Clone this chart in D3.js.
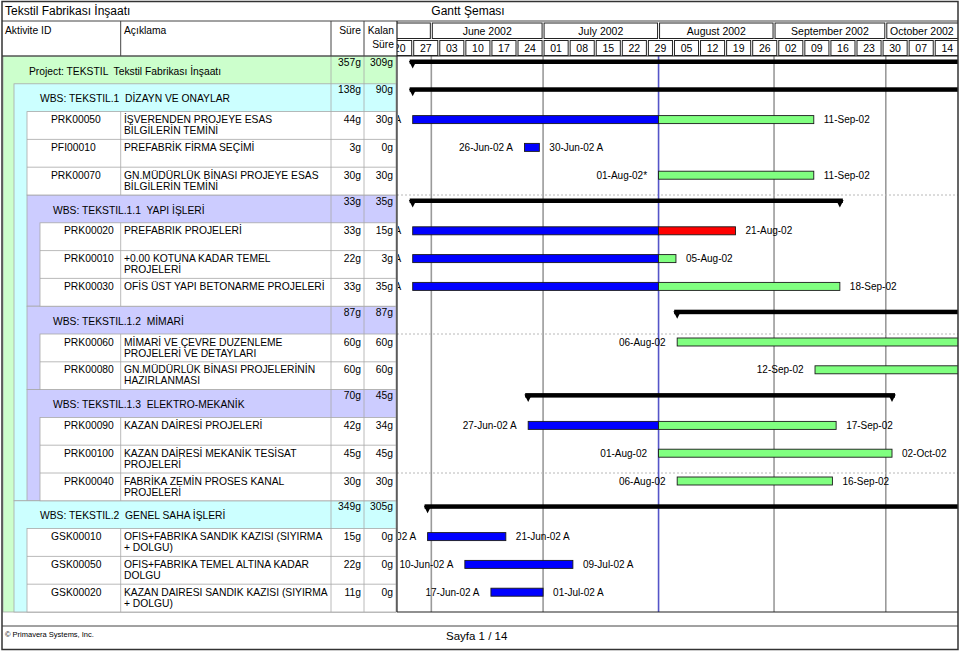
<!DOCTYPE html>
<html><head><meta charset="utf-8">
<script src="https://cdn.jsdelivr.net/npm/d3@7"></script>
<style>
body{margin:0;background:#fff}
svg{display:block}
text{font-family:"Liberation Sans",Arial,sans-serif;fill:#000}
</style>
</head><body>
<svg id="c" width="960" height="651"></svg>
<script>
// ---------------- DATA ----------------
const titleText = "Tekstil Fabrikası İnşaatı";
const chartTitle = "Gantt Şeması";
const columnHeaders = ["Aktivite ID", "Açıklama", "Süre", "Kalan|Süre"];
const monthStarts = ["2002-05-01","2002-06-01","2002-07-01","2002-08-01","2002-09-01","2002-10-01","2002-11-01"];
const monthLabels = ["May 2002","June 2002","July 2002","August 2002","September 2002","October 2002"];
const weekStarts = ["2002-05-20","2002-05-27","2002-06-03","2002-06-10","2002-06-17","2002-06-24","2002-07-01","2002-07-08","2002-07-15","2002-07-22","2002-07-29","2002-08-05","2002-08-12","2002-08-19","2002-08-26","2002-09-02","2002-09-09","2002-09-16","2002-09-23","2002-09-30","2002-10-07","2002-10-14","2002-10-21"];
const weekLabels = ["20","27","03","10","17","24","01","08","15","22","29","05","12","19","26","02","09","16","23","30","07","14"];
const dataDate = "2002-08-01";

const rowTypes = ["project","wbs","task","task","task","wbs","task","task","task","wbs","task","task","wbs","task","task","task","wbs","task","task","task"];
const rowDepth = [0,1,2,2,2,2,3,3,3,2,3,3,2,3,3,3,1,2,2,2];
const activityIds = ["","","PRK00050","PFI00010","PRK00070","","PRK00020","PRK00010","PRK00030","","PRK00060","PRK00080","","PRK00090","PRK00100","PRK00040","","GSK00010","GSK00050","GSK00020"];
const descriptions = [
  "Project: TEKSTIL  Tekstil Fabrikası İnşaatı",
  "WBS: TEKSTIL.1  DİZAYN VE ONAYLAR",
  "İŞVERENDEN PROJEYE ESAS|BİLGİLERİN TEMİNİ",
  "PREFABRİK FİRMA SEÇİMİ",
  "GN.MÜDÜRLÜK BİNASI PROJEYE ESAS|BİLGİLERİN TEMİNİ",
  "WBS: TEKSTIL.1.1  YAPI İŞLERİ",
  "PREFABRIK PROJELERİ",
  "+0.00 KOTUNA KADAR TEMEL|PROJELERİ",
  "OFİS ÜST YAPI BETONARME PROJELERİ",
  "WBS: TEKSTIL.1.2  MİMARİ",
  "MİMARİ VE ÇEVRE DUZENLEME|PROJELERİ VE DETAYLARI",
  "GN.MÜDÜRLÜK BİNASI PROJELERİNİN|HAZIRLANMASI",
  "WBS: TEKSTIL.1.3  ELEKTRO-MEKANİK",
  "KAZAN DAİRESİ PROJELERİ",
  "KAZAN DAİRESİ MEKANİK TESİSAT|PROJELERİ",
  "FABRİKA ZEMİN PROSES KANAL|PROJELERİ",
  "WBS: TEKSTIL.2  GENEL SAHA İŞLERİ",
  "OFIS+FABRIKA SANDIK KAZISI (SIYIRMA|+ DOLGU)",
  "OFIS+FABRIKA TEMEL ALTINA KADAR|DOLGU",
  "KAZAN DAIRESI SANDIK KAZISI (SIYIRMA|+ DOLGU)"
];
const originalDuration = [357,138,44,3,30,33,33,22,33,87,60,60,70,42,45,30,349,15,22,11];
const remainingDuration = [309,90,30,0,30,35,15,3,35,87,60,60,45,34,45,30,305,0,0,0];
const startDates = ["2002-05-27","2002-05-27","2002-05-27","2002-06-26","2002-08-01","2002-05-27","2002-05-27","2002-05-27","2002-05-27","2002-08-06","2002-08-06","2002-09-12","2002-06-27","2002-06-27","2002-08-01","2002-08-06","2002-05-31","2002-05-31","2002-06-10","2002-06-17"];
const finishDates = ["2003-10-08","2002-12-04","2002-09-11","2002-06-30","2002-09-11","2002-09-18","2002-08-21","2002-08-05","2002-09-18","2002-12-04","2002-10-28","2002-12-04","2002-10-02","2002-09-17","2002-10-02","2002-09-16","2003-10-08","2002-06-21","2002-07-09","2002-07-01"];
const actualStart = [1,1,1,1,0,1,1,1,1,0,0,0,1,1,0,0,1,1,1,1];
const actualFinish = [0,0,0,1,0,0,0,0,0,0,0,0,0,0,0,0,0,1,1,1];
const critical = [0,0,0,0,0,0,1,0,0,0,0,0,0,0,0,0,0,0,0,0];
const startLabels = ["","","27-May-02 A","26-Jun-02 A","01-Aug-02*","","27-May-02 A","27-May-02 A","27-May-02 A","","06-Aug-02","12-Sep-02","","27-Jun-02 A","01-Aug-02","06-Aug-02","","31-May-02 A","10-Jun-02 A","17-Jun-02 A"];
const finishLabels = ["","","11-Sep-02","30-Jun-02 A","11-Sep-02","","21-Aug-02","05-Aug-02","18-Sep-02","","28-Oct-02","04-Dec-02","","17-Sep-02","02-Oct-02","16-Sep-02","","21-Jun-02 A","09-Jul-02 A","01-Jul-02 A"];
const footerLeft = "© Primavera Systems, Inc.";
const footerPage = "Sayfa 1 / 14";

// ---------------- LAYOUT ----------------
const parse = d3.timeParse("%Y-%m-%d");
const svg = d3.select("#c");
const L = 2, R = 958, T = 1.5, B = 649.5;
const chartL = 397, chartR = 958;
const bodyTop = 56, bodyBottom = 612;
const colID = 120.7, colSure = 331, colKalan = 364, colEnd = 396;
const bandX = [3, 14, 27, 40];
const FS = 10.3;
const colors = {project:"#ccffcc", wbs1:"#ccffff", wbs2:"#ccccff", line:"#a8a8a8"};

const x = d3.scaleTime()
  .domain([new Date(2002,4,23), new Date(2002,9,21)])
  .range([397.8, 960.3]);
const y = d3.scaleBand().domain(d3.range(rowTypes.length)).range([bodyTop, bodyBottom]).padding(0);
const endX = (i) => {
  const d = parse(finishDates[i]);
  return actualFinish[i] ? x(d) : x(d3.timeHour.offset(d, 16));
};

const defs = svg.append("defs");
defs.append("clipPath").attr("id","chartClip").append("rect")
  .attr("x", chartL).attr("y", 20).attr("width", chartR - chartL).attr("height", bodyBottom - 20);
defs.append("clipPath").attr("id","labelClip").append("rect")
  .attr("x", chartL + 1).attr("y", bodyTop).attr("width", chartR - chartL - 1).attr("height", bodyBottom - bodyTop);

svg.append("rect").attr("width",960).attr("height",651).attr("fill","#fff");

// ---------------- TITLE ----------------
svg.append("text").attr("x", 5).attr("y", 14.5).attr("font-size", 12).text(titleText);
svg.append("text").attr("x", 468).attr("y", 14.5).attr("font-size", 12).attr("text-anchor","middle").text(chartTitle);
svg.append("line").attr("x1",L).attr("x2",R).attr("y1",21).attr("y2",21).attr("stroke","#444").attr("stroke-width",1);

// ---------------- COLUMN HEADERS ----------------
const hdr = svg.append("g");
hdr.append("text").attr("x",5).attr("y",34).attr("font-size",FS).text(columnHeaders[0]);
hdr.append("text").attr("x",124).attr("y",34).attr("font-size",FS).text(columnHeaders[1]);
hdr.append("text").attr("x",361).attr("y",34).attr("font-size",FS).attr("text-anchor","end").text(columnHeaders[2]);
columnHeaders[3].split("|").forEach((t,k)=>{
  hdr.append("text").attr("x",394).attr("y",34 + k*14).attr("font-size",FS).attr("text-anchor","end").text(t);
});
[colID, colSure, colKalan].forEach(cx=>{
  svg.append("line").attr("x1",cx).attr("x2",cx).attr("y1",21).attr("y2",bodyTop).attr("stroke","#444").attr("stroke-width",1);
});

// ---------------- LEFT TABLE ----------------
const tbl = svg.append("g");
tbl.append("rect").attr("x",bandX[0]).attr("y",bodyTop).attr("width",colEnd-bandX[0]).attr("height",bodyBottom-bodyTop)
  .attr("fill",colors.project).attr("stroke",colors.line).attr("stroke-width",0.8);

function sectionEnd(i){
  for (let j=i+1;j<rowTypes.length;j++){
    if (rowTypes[j] !== "task" && rowDepth[j] <= rowDepth[i]) return j;
  }
  return rowTypes.length;
}
rowTypes.forEach((t,i)=>{
  if (t === "wbs"){
    const e = sectionEnd(i);
    tbl.append("rect").attr("x",bandX[rowDepth[i]]).attr("y",y(i))
      .attr("width",colEnd-bandX[rowDepth[i]]).attr("height",(e<rowTypes.length? y(e): bodyBottom) - y(i))
      .attr("fill", rowDepth[i]===1 ? colors.wbs1 : colors.wbs2)
      .attr("stroke",colors.line).attr("stroke-width",0.8);
  }
});
let groups = [];
rowTypes.forEach((t,i)=>{
  if (t==="task"){
    const g = groups[groups.length-1];
    if (g && g.end === i && g.depth === rowDepth[i]) g.end = i+1;
    else groups.push({start:i,end:i+1,depth:rowDepth[i]});
  }
});
groups.forEach(g=>{
  const gx = bandX[g.depth];
  const y0 = y(g.start), y1 = g.end < rowTypes.length ? y(g.end) : bodyBottom;
  tbl.append("rect").attr("x",gx).attr("y",y0).attr("width",colEnd-gx).attr("height",y1-y0)
    .attr("fill","#fff").attr("stroke",colors.line).attr("stroke-width",0.8);
  for (let r=g.start+1;r<g.end;r++){
    tbl.append("line").attr("x1",gx).attr("x2",colEnd).attr("y1",y(r)).attr("y2",y(r)).attr("stroke",colors.line).attr("stroke-width",0.8);
  }
  tbl.append("line").attr("x1",colID).attr("x2",colID).attr("y1",y0).attr("y2",y1).attr("stroke",colors.line).attr("stroke-width",0.8);
});
[colSure, colKalan].forEach(cx=>{
  tbl.append("line").attr("x1",cx).attr("x2",cx).attr("y1",bodyTop).attr("y2",bodyBottom).attr("stroke",colors.line).attr("stroke-width",0.8);
});

rowTypes.forEach((t,i)=>{
  const top = y(i);
  if (t === "task"){
    tbl.append("text").attr("x",bandX[rowDepth[i]]+24).attr("y",top+11.5).attr("font-size",FS).text(activityIds[i]);
    descriptions[i].split("|").forEach((s,k)=>{
      tbl.append("text").attr("x",124).attr("y",top+11.5+k*11).attr("font-size",FS).text(s);
    });
    tbl.append("text").attr("x",361).attr("y",top+11.5).attr("font-size",FS).attr("text-anchor","end").text(originalDuration[i]+"g");
    tbl.append("text").attr("x",393).attr("y",top+11.5).attr("font-size",FS).attr("text-anchor","end").text(remainingDuration[i]+"g");
  } else {
    tbl.append("text").attr("x",bandX[rowDepth[i]]+26).attr("y",top+18.5).attr("font-size",FS).style("white-space","pre").text(descriptions[i]);
    tbl.append("text").attr("x",361).attr("y",top+9.5).attr("font-size",FS).attr("text-anchor","end").text(originalDuration[i]+"g");
    tbl.append("text").attr("x",393).attr("y",top+9.5).attr("font-size",FS).attr("text-anchor","end").text(remainingDuration[i]+"g");
  }
});

// ---------------- CHART HEADER ----------------
const ch = svg.append("g").attr("clip-path","url(#chartClip)");
const months = monthStarts.slice(0,-1).map((d,k)=>({s:parse(d), e:parse(monthStarts[k+1]), label:monthLabels[k]}));
ch.selectAll("rect.m").data(months).join("rect").attr("class","m")
  .attr("x", d=>x(d.s)+1).attr("y",23).attr("width", d=>x(d.e)-x(d.s)-2).attr("height",15.5)
  .attr("fill","#fff").attr("stroke","#222").attr("stroke-width",1);
ch.selectAll("text.m").data(months.filter(d=> Math.min(x(d.e),chartR) - Math.max(x(d.s),chartL) > 60)).join("text").attr("class","m")
  .attr("x", d=> (Math.max(x(d.s),chartL) + Math.min(x(d.e),chartR))/2).attr("y",34.5)
  .attr("font-size",10.5).attr("text-anchor","middle").text(d=>d.label);
const weeks = weekStarts.slice(0,-1).map((d,k)=>({s:parse(d), e:parse(weekStarts[k+1]), label:weekLabels[k]}));
ch.selectAll("rect.w").data(weeks).join("rect").attr("class","w")
  .attr("x", d=>x(d.s)+1).attr("y",40.5).attr("width", d=>x(d.e)-x(d.s)-2).attr("height",15)
  .attr("fill","#fff").attr("stroke","#222").attr("stroke-width",1);
ch.selectAll("text.w").data(weeks).join("text").attr("class","w")
  .attr("x", d=>(x(d.s)+x(d.e))/2).attr("y",51.5)
  .attr("font-size",10.5).attr("text-anchor","middle").text(d=>d.label);

// ---------------- CHART BODY ----------------
const body = svg.append("g").attr("clip-path","url(#chartClip)");
body.append("rect").attr("x",chartL).attr("y",bodyTop).attr("width",chartR-chartL).attr("height",bodyBottom-bodyTop).attr("fill","#fff");
const dd = parse(dataDate);
const gridMonths = monthStarts.map(parse).filter(d=> x(d)>chartL && x(d)<chartR && +d !== +dd);
body.selectAll("line.g").data(gridMonths).join("line").attr("class","g")
  .attr("x1",d=>x(d)).attr("x2",d=>x(d)).attr("y1",bodyTop).attr("y2",bodyBottom)
  .attr("stroke","#9a9a9a").attr("stroke-width",1.6);
body.selectAll("line.s").data(d3.range(5, rowTypes.length, 5)).join("line").attr("class","s")
  .attr("x1",chartL).attr("x2",chartR).attr("y1",d=>y(d)).attr("y2",d=>y(d))
  .attr("stroke","#b8b8b8").attr("stroke-width",1).attr("stroke-dasharray","2,2");
body.append("line").attr("x1",x(dd)).attr("x2",x(dd)).attr("y1",bodyTop).attr("y2",bodyBottom)
  .attr("stroke","#5555c8").attr("stroke-width",1.6);

rowTypes.forEach((t,i)=>{
  const top = y(i);
  const sx = x(parse(startDates[i])), fx = endX(i);
  if (t !== "task"){
    body.append("rect").attr("x",sx-3).attr("y",top+3.5).attr("width",fx-sx+6).attr("height",4.5).attr("fill","#000");
    [sx, fx].forEach(px=>{
      body.append("path").attr("d",`M${px-3.8},${top+5}L${px+3.8},${top+5}L${px},${top+12.5}Z`).attr("fill","#000");
    });
  } else {
    const segs = [];
    if (actualStart[i] && actualFinish[i]) segs.push([sx,fx,"#0000ff"]);
    else if (actualStart[i]) { segs.push([sx,x(dd),"#0000ff"]); segs.push([x(dd),fx, critical[i]?"#ff0000":"#80ff80"]); }
    else segs.push([sx,fx, critical[i]?"#ff0000":"#80ff80"]);
    segs.forEach(s=>{
      body.append("rect").attr("x",s[0]).attr("y",top+4).attr("width",s[1]-s[0]).attr("height",8)
        .attr("fill",s[2]).attr("stroke","#1a1a1a").attr("stroke-width",0.9);
    });
  }
});
// bar labels (only those that fall inside the visible time window)
const lab = svg.append("g").attr("clip-path","url(#labelClip)");
rowTypes.forEach((t,i)=>{
  if (t !== "task") return;
  const top = y(i);
  const sx = x(parse(startDates[i])), fx = endX(i);
  if (sx - 11.5 > chartL) {
    lab.append("text").attr("x",sx-11.5).attr("y",top+11.5).attr("font-size",10).attr("text-anchor","end").text(startLabels[i]);
  }
  if (fx + 10 < chartR - 20) {
    lab.append("text").attr("x",fx+10).attr("y",top+11.5).attr("font-size",10).text(finishLabels[i]);
  }
});

svg.append("line").attr("x1",chartL).attr("x2",chartL).attr("y1",21).attr("y2",bodyBottom).attr("stroke","#222").attr("stroke-width",1.2);
svg.append("line").attr("x1",L).attr("x2",R).attr("y1",bodyTop).attr("y2",bodyTop).attr("stroke","#222").attr("stroke-width",1.2);
svg.append("line").attr("x1",chartL).attr("x2",R).attr("y1",bodyBottom).attr("y2",bodyBottom).attr("stroke","#222").attr("stroke-width",1.2);

// ---------------- FOOTER ----------------
svg.append("line").attr("x1",L).attr("x2",R).attr("y1",626).attr("y2",626).attr("stroke","#444").attr("stroke-width",1);
svg.append("text").attr("x",5).attr("y",637).attr("font-size",7.5).text(footerLeft);
svg.append("text").attr("x",446).attr("y",640).attr("font-size",11.5).text(footerPage);

svg.append("rect").attr("x",L).attr("y",T).attr("width",R-L).attr("height",B-T)
  .attr("fill","none").attr("stroke","#333").attr("stroke-width",1.5);
</script>
</body></html>
